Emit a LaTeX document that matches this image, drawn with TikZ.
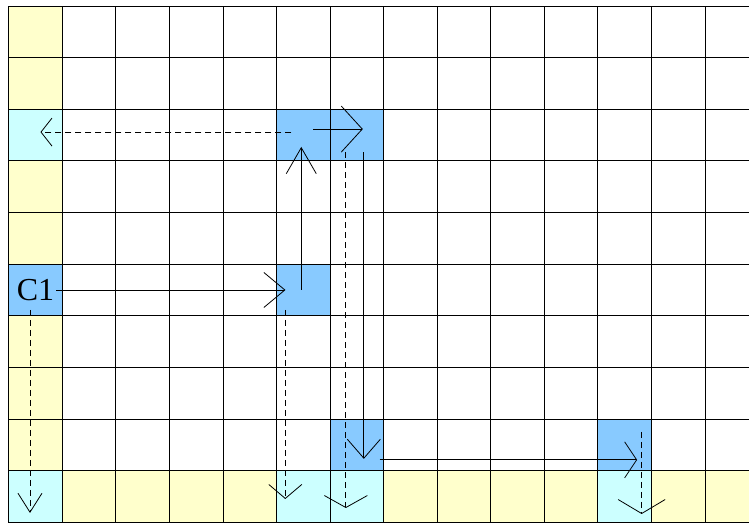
\documentclass[tikz,border=0pt]{standalone}
\usepackage{fontspec}
\setmainfont{Liberation Serif}
\usetikzlibrary{arrows.meta}
\definecolor{cellyellow}{RGB}{255,255,204}
\definecolor{cellcyan}{RGB}{204,255,255}
\definecolor{cellblue}{RGB}{136,202,255}

\begin{document}
\begin{tikzpicture}[x=53.56pt, y=-51.63pt,
    cell/.style={draw, line width=0.8pt, minimum width=53.56pt, minimum height=51.63pt, inner sep=0pt, outer sep=0pt},
    hop/.style={line width=0.8pt},
    skip/.style={line width=0.8pt, dash pattern=on 6pt off 4pt}]
  \clip (-0.1624,-0.1162) rectangle (13.8218,9.9942);
  % grid
  \foreach \r in {0,...,9}
    \foreach \c in {0,...,13}
      \node[cell] (g\r-\c) at (\c+0.5,\r+0.5) {};
  % left column and bottom row
  \foreach \r in {0,1,3,4,6,7,8}
    \node[cell, fill=cellyellow] (y\r-0) at (0.5,\r+0.5) {};
  \foreach \c in {1,2,3,4,7,8,9,10,12,13}
    \node[cell, fill=cellyellow] (y9-\c) at (\c+0.5,9.5) {};
  \node[cell, fill=cellcyan] (t1) at (0.5,2.5) {};
  \node[cell, fill=cellcyan] (t2) at (0.5,9.5) {};
  \node[cell, fill=cellcyan] (t3) at (5.5,9.5) {};
  \node[cell, fill=cellcyan] (t4) at (6.5,9.5) {};
  \node[cell, fill=cellcyan] (t5) at (11.5,9.5) {};
  \node[cell, fill=cellblue, font=\fontsize{32}{32}\selectfont] (c1) at (0.5,5.5) {C1};
  \node[cell, fill=cellblue] (b1) at (5.5,5.5) {};
  \node[cell, fill=cellblue] (b2) at (5.5,2.5) {};
  \node[cell, fill=cellblue] (b3) at (6.5,2.5) {};
  \node[cell, fill=cellblue] (b4) at (6.5,8.5) {};
  \node[cell, fill=cellblue] (b5) at (11.5,8.5) {};
  % moves
  \draw[hop, -{Straight Barb[length=21pt,width=35pt]}] ([xshift=-6pt]c1.east) -- ([xshift=9pt]b1.west);
  \draw[hop, -{Straight Barb[length=26pt,width=30pt]}] ([xshift=-2pt]b1.center) -- ([xshift=-2pt,yshift=14pt]b2.south);
  \draw[hop, -{Straight Barb[length=21pt,width=46pt]}] ([xshift=10pt,yshift=6pt]b2.center) -- ([xshift=6pt,yshift=6pt]b3.center);
  \draw[hop, -{Straight Barb[length=19pt,width=33pt]}] ([xshift=7pt,yshift=-17pt]b3.center) -- ([xshift=7pt,yshift=-14pt]b4.center);
  \draw[hop, -{Straight Barb[length=12pt,width=36pt]}] ([xshift=-4pt,yshift=-15pt]b4.east) -- ([xshift=12.5pt,yshift=-15pt]b5.center);
  % projections
  \draw[skip, -{Straight Barb[length=11pt,width=28pt]}] ([xshift=-12pt,yshift=3pt]b2.center) -- ([xshift=5pt,yshift=3pt]t1.center);
  \draw[skip, -{Straight Barb[length=19pt,width=24pt]}] ([xshift=-5.5pt,yshift=-20pt]c1.center) -- ([xshift=-5.5pt,yshift=-16.5pt]t2.center);
  \draw[skip, -{Straight Barb[length=14pt,width=33pt]}] ([xshift=-18pt,yshift=-20pt]b1.center) -- ([xshift=-18pt,yshift=-2.5pt]t3.center);
  \draw[skip, -{Straight Barb[length=12pt,width=43pt]}] ([xshift=-11pt,yshift=-17pt]b3.center) -- ([xshift=-11pt,yshift=-11.5pt]t4.center);
  \draw[skip, -{Straight Barb[length=14pt,width=47pt]}] ([xshift=17pt,yshift=13pt]b5.center) -- ([xshift=17pt,yshift=-17.5pt]t5.center);
\end{tikzpicture}
\end{document}
